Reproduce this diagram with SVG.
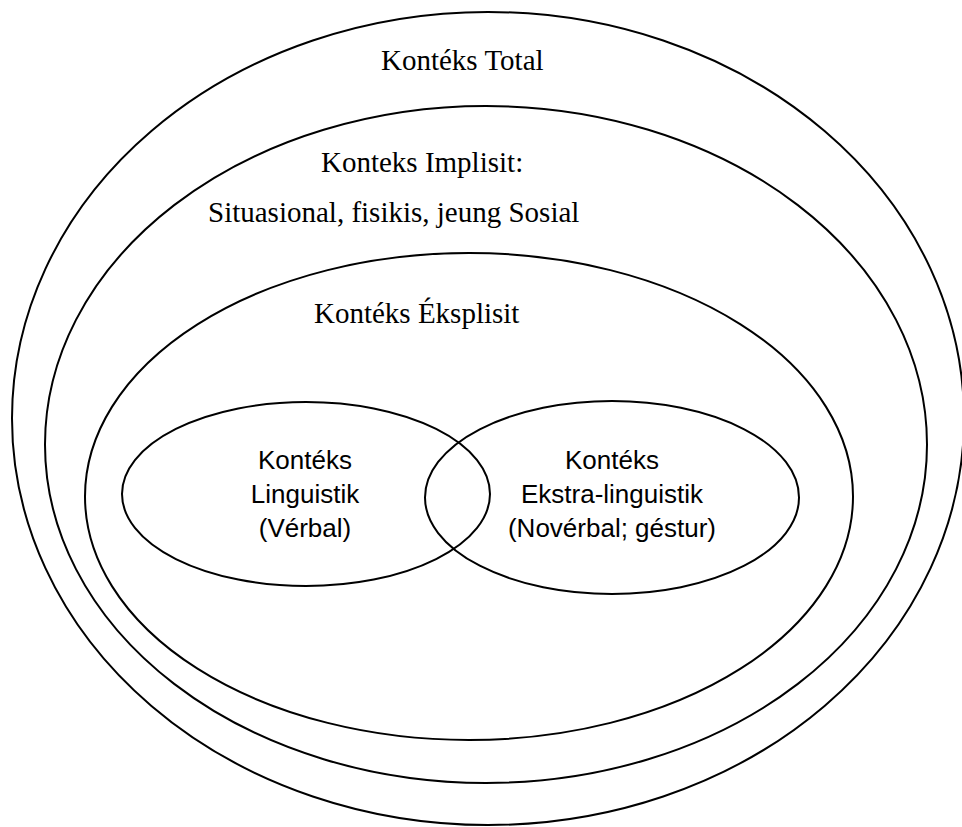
<svg xmlns="http://www.w3.org/2000/svg" width="962" height="827" viewBox="0 0 962 827">
  <style>
    .ring { fill: none; stroke: #000; stroke-width: 2; }
    .serif { font-family: "Liberation Serif", "Times New Roman", serif; font-size: 29px; fill: #000; }
    .sans { font-family: "Liberation Sans", Arial, sans-serif; font-size: 26px; fill: #000; text-anchor: middle; }
  </style>
  <rect width="962" height="827" fill="#fff"/>

  <!-- outermost ring: total context -->
  <g id="total">
    <ellipse class="ring" cx="488" cy="418.5" rx="476" ry="406.5"/>
    <text class="serif" x="381" y="70">Kontéks Total</text>
  </g>

  <!-- implicit context ring -->
  <g id="implisit">
    <ellipse class="ring" cx="486" cy="444.5" rx="441" ry="338.5"/>
    <text class="serif" x="321" y="172">Konteks Implisit:</text>
    <text class="serif" x="208" y="222">Situasional, fisikis, jeung Sosial</text>
  </g>

  <!-- explicit context ring -->
  <g id="eksplisit">
    <ellipse class="ring" cx="469" cy="496.5" rx="384" ry="243.5"/>
    <text class="serif" x="314" y="323">Kontéks Éksplisit</text>
  </g>

  <!-- two overlapping inner sets -->
  <g id="linguistik">
    <ellipse class="ring" cx="306" cy="494" rx="184" ry="92"/>
    <text class="sans" x="305" y="469">Kontéks</text>
    <text class="sans" x="305" y="503">Linguistik</text>
    <text class="sans" x="305" y="537">(Vérbal)</text>
  </g>

  <g id="ekstra-linguistik">
    <ellipse class="ring" cx="612" cy="497.5" rx="187" ry="96.5"/>
    <text class="sans" x="612" y="469">Kontéks</text>
    <text class="sans" x="612" y="503">Ekstra-linguistik</text>
    <text class="sans" x="612" y="537">(Novérbal; géstur)</text>
  </g>

  <g id="connectors"/>
</svg>
